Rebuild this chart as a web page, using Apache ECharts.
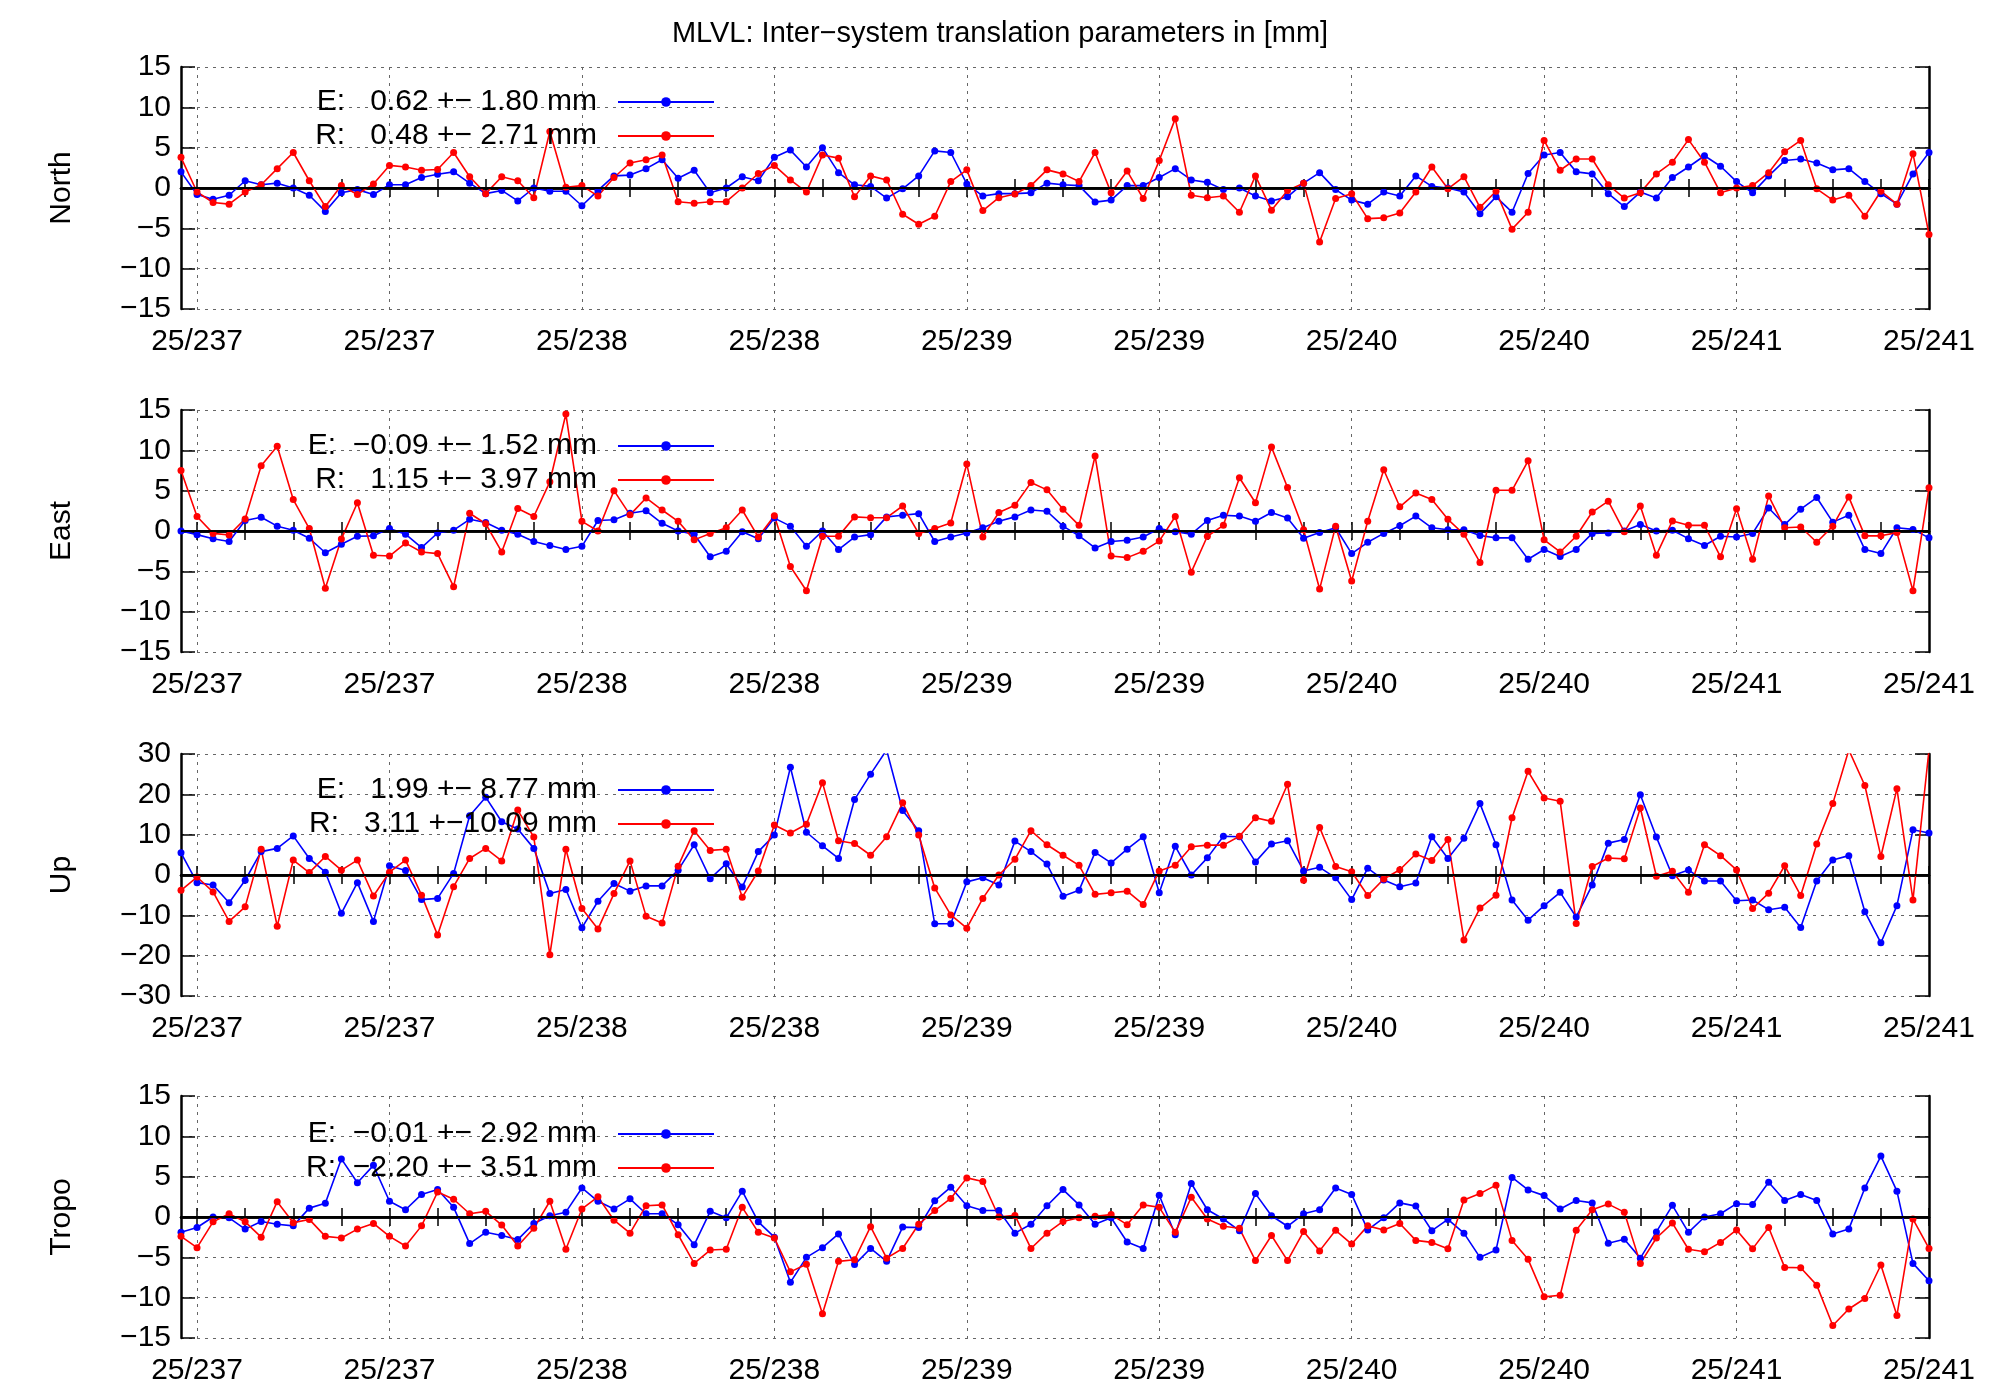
<!DOCTYPE html>
<html><head><meta charset="utf-8">
<script src="https://cdn.jsdelivr.net/npm/echarts@6/dist/echarts.min.js"></script>
<style>html,body{margin:0;padding:0;background:#fff}#c{width:2000px;height:1400px}</style>
</head><body><div id="c"></div>
<script>
const tickLabels = ['25/237','25/237','25/238','25/238','25/239','25/239','25/240','25/240','25/241','25/241'];
const hours = Array.from({length:110},(_,i)=>String(i));
const panelNames = ['North','East','Up','Tropo'];
const legendE = ['E:   0.62 +\u2212 1.80 mm','E:  \u22120.09 +\u2212 1.52 mm','E:   1.99 +\u2212 8.77 mm','E:  \u22120.01 +\u2212 2.92 mm'];
const legendR = ['R:   0.48 +\u2212 2.71 mm','R:   1.15 +\u2212 3.97 mm','R:   3.11 +\u221210.09 mm','R:  \u22122.20 +\u2212 3.51 mm'];
const yMin = [-15,-15,-30,-15], yMax = [15,15,30,15], yStep = [5,5,10,5];

const northE = [2.0,-0.8,-1.4,-0.9,0.9,0.4,0.6,0,-0.9,-2.9,-0.6,-0.2,-0.8,0.4,0.4,1.3,1.7,2.0,0.6,-0.7,-0.3,-1.6,0,-0.4,-0.4,-2.2,-0.3,1.5,1.6,2.4,3.5,1.2,2.2,-0.6,0,1.4,0.9,3.8,
4.7,2.6,5.0,1.9,0.4,0.2,-1.25,-0.1,1.5,4.6,4.4,0.5,-1.0,-0.7,-0.7,-0.6,0.6,0.4,0.3,-1.75,-1.5,0.3,0.3,1.3,2.4,1.0,0.7,-0.2,0,-1.0,-1.6,-1.1,0.6,1.9,-0.2,-1.5,
-2.0,-0.5,-1.0,1.5,0.2,0,-0.5,-3.2,-1.1,-3.0,1.8,4.1,4.4,2.0,1.75,-0.7,-2.3,-0.5,-1.25,1.3,2.6,4.0,2.7,0.8,-0.6,1.5,3.4,3.6,3.1,2.25,2.4,0.8,-0.7,-2.0,1.75,4.4];
const northR = [3.8,-0.5,-1.8,-2.0,-0.5,0.4,2.4,4.4,0.9,-2.3,0.3,-0.8,0.5,2.8,2.6,2.2,2.3,4.4,1.4,-0.7,1.4,0.9,-1.2,7.0,0.1,0.3,-1.0,1.3,3.1,3.5,4.1,-1.7,-1.9,-1.7,-1.7,0,1.8,2.8,
1.0,-0.5,4.1,3.7,-1.1,1.5,1.0,-3.25,-4.5,-3.5,0.8,2.25,-2.8,-1.2,-0.75,0.3,2.25,1.75,0.8,4.4,-0.6,2.1,-1.3,3.4,8.6,-0.9,-1.2,-1.0,-3.0,1.5,-2.75,-0.3,0.6,-6.7,-1.3,-0.7,
-3.8,-3.7,-3.1,-0.5,2.6,-0.1,1.4,-2.4,-0.4,-5.1,-3.0,5.9,2.2,3.6,3.6,0.4,-1.25,-0.6,1.75,3.2,6.0,3.2,-0.6,0,0.3,1.9,4.5,5.9,-0.1,-1.5,-0.9,-3.5,-0.4,-2.0,4.25,-5.75];
const eastE = [0,-0.45,-0.95,-1.3,1.3,1.7,0.6,0.1,-0.9,-2.7,-1.65,-0.65,-0.6,0.3,-0.4,-2.05,-0.25,0.1,1.45,1.05,0.1,-0.4,-1.3,-1.8,-2.3,-1.9,1.3,1.4,2.2,2.5,0.95,0,-0.4,-3.2,-2.5,-0.1,-0.95,1.6,
0.6,-1.9,0,-2.3,-0.75,-0.45,1.75,1.95,2.15,-1.3,-0.75,-0.25,0.4,1.2,1.75,2.6,2.45,0.6,-0.6,-2.1,-1.3,-1.15,-0.75,0.3,-0.1,-0.4,1.3,1.95,1.85,1.2,2.3,1.6,-0.9,-0.2,0.4,-2.8,
-1.4,-0.3,0.65,1.85,0.4,0.15,0.15,-0.55,-0.85,-0.85,-3.5,-2.3,-3.15,-2.3,-0.3,-0.25,0,0.8,0,0.1,-0.95,-1.8,-0.65,-0.75,-0.3,2.85,0.8,2.7,4.15,1.1,1.95,-2.3,-2.8,0.4,0.2,-0.85];
const eastR = [7.5,1.8,-0.3,-0.5,1.5,8.1,10.5,3.9,0.3,-7.1,-1.0,3.5,-3.0,-3.1,-1.5,-2.6,-2.8,-6.9,2.2,0.9,-2.6,2.8,1.8,6.1,14.5,1.2,0,5.0,2.0,4.1,2.6,1.2,-1.1,-0.3,0.4,2.6,-0.75,1.9,
-4.4,-7.4,-0.65,-0.65,1.75,1.65,1.65,3.1,-0.3,0.3,1.0,8.3,-0.75,2.3,3.2,6.0,5.1,2.7,0.7,9.3,-3.1,-3.3,-2.5,-1.25,1.8,-5.1,-0.65,0.7,6.6,3.5,10.4,5.4,0.15,-7.2,0.6,-6.2,
1.2,7.6,3.0,4.7,3.9,1.45,-0.4,-3.9,5.05,5.05,8.7,-1.1,-2.6,-0.65,2.35,3.7,-0.1,3.1,-3.0,1.25,0.7,0.7,-3.2,2.75,-3.5,4.35,0.4,0.5,-1.4,0.6,4.2,-0.6,-0.6,-0.2,-7.4,5.35];
const upE = [5.5,-1.9,-2.5,-6.9,-1.3,5.8,6.6,9.7,4.1,0.7,-9.5,-1.9,-11.5,2.3,1.1,-6.1,-5.8,0.4,14.7,19.3,13.2,11.4,6.6,-4.6,-3.6,-13.1,-6.5,-2.1,-4.0,-2.7,-2.7,1.2,7.5,-0.9,2.8,-3.0,5.8,9.9,
26.7,10.6,7.25,4.1,18.7,25.0,31,16.0,11.0,-12.1,-12.1,-1.7,-0.7,-2.5,8.4,5.8,2.7,-5.25,-3.8,5.6,3.0,6.4,9.5,-4.4,7.1,0,4.25,9.6,9.5,3.25,7.7,8.5,1.0,1.9,-0.7,-6.1,
1.7,-1.25,-2.9,-2.0,9.5,4.1,9.1,17.7,7.5,-6.2,-11.2,-7.6,-4.3,-10.4,-2.5,7.9,8.8,19.9,9.4,-0.2,1.25,-1.5,-1.5,-6.4,-6.2,-8.6,-8.0,-13.0,-1.5,3.7,4.8,-9.1,-16.8,-7.6,11.2,10.4];
const upR = [-3.8,-0.5,-4.2,-11.5,-7.9,6.4,-12.7,3.7,0.6,4.6,1.2,3.7,-5.2,0.7,3.7,-5.0,-14.9,-2.9,4.1,6.6,3.5,16.1,9.4,-19.8,6.4,-8.3,-13.4,-4.6,3.5,-10.2,-11.9,2.2,11.0,6.1,6.4,-5.5,1.0,12.4,
10.4,12.6,22.9,8.5,7.8,4.9,9.5,17.9,9.9,-3.2,-9.9,-13.2,-5.8,0,3.9,11.0,7.5,4.9,2.4,-4.8,-4.4,-4.0,-7.3,1.0,2.4,7.0,7.4,7.4,9.6,14.2,13.3,22.5,-1.3,11.8,2.1,0.8,
-5.1,-1.0,1.3,5.2,3.6,8.8,-16.1,-8.2,-5.0,14.2,25.7,19.1,18.3,-12.0,2.1,4.2,4.0,16.6,-0.3,0.9,-4.3,7.5,4.8,1.25,-8.3,-4.5,2.3,-5.1,7.7,17.7,31,22.2,4.6,21.4,-6.2,31];
const tropoE = [-1.9,-1.3,0,-0.1,-1.5,-0.55,-0.9,-1.1,1.1,1.7,7.2,4.25,6.4,1.95,0.9,2.8,3.4,1.2,-3.3,-1.9,-2.3,-2.8,-0.8,0.15,0.6,3.6,1.95,1.0,2.25,0.4,0.4,-0.95,-3.45,0.7,-0.1,3.2,-0.6,-2.5,
-8.1,-5.0,-3.8,-2.1,-5.9,-3.9,-5.5,-1.25,-1.3,2.0,3.7,1.4,0.8,0.8,-2.0,-0.9,1.4,3.4,1.5,-0.9,-0.1,-3.1,-3.9,2.7,-2.2,4.15,0.9,-0.25,-1.7,2.9,0.15,-1.15,0.4,0.9,3.6,2.8,
-1.6,-0.1,1.75,1.35,-1.7,-0.3,-2.0,-5.0,-4.1,4.9,3.35,2.65,1.0,2.05,1.75,-3.25,-2.75,-5.1,-1.85,1.45,-1.9,0,0.4,1.65,1.55,4.3,2.05,2.8,2.05,-2.1,-1.5,3.6,7.55,3.2,-5.75,-7.9];
const tropoR = [-2.4,-3.8,-0.6,0.4,-0.6,-2.5,1.9,-0.7,-0.3,-2.4,-2.6,-1.5,-0.8,-2.4,-3.6,-1.1,3.1,2.2,0.4,0.7,-1.0,-3.6,-1.4,1.95,-4.0,1.0,2.5,-0.4,-2.0,1.4,1.5,-2.2,-5.75,-4.1,-4.0,1.2,-1.9,-2.6,
-6.8,-5.85,-12.0,-5.5,-5.3,-1.2,-5.1,-3.9,-0.9,0.8,2.3,4.85,4.4,0,0.2,-3.9,-2.0,-0.55,-0.1,0.1,0.3,-0.95,1.5,1.2,-1.9,2.45,-0.25,-1.15,-1.4,-5.4,-2.3,-5.4,-1.8,-4.2,-1.65,-3.35,
-1.1,-1.6,-0.8,-2.9,-3.15,-3.95,2.1,2.9,3.95,-2.9,-5.25,-9.9,-9.7,-1.65,0.9,1.6,0.6,-5.75,-2.6,-0.75,-4.0,-4.3,-3.15,-1.6,-3.95,-1.3,-6.25,-6.3,-8.45,-13.45,-11.4,-10.1,-5.95,-12.2,-0.25,-3.9];

const seriesE = [northE, eastE, upE, tropoE];
const seriesR = [northR, eastR, upR, tropoR];

const FONT = 'Liberation Sans';
const FS = 30;
const gridTops = [67,410,754,1096], gridH = 242;
const legendTops = [82,426,770,1114];
const isMajor = i => (i-1)%12===0;
const isMinor = i => (i-1)%3===0;

const option = {animation:false, backgroundColor:'#fff',
  textStyle:{fontFamily:FONT},
  title:{text:'MLVL: Inter\u2212system translation parameters in [mm]', left:'center', top:14,
    textStyle:{fontFamily:FONT,fontSize:29,fontWeight:'normal',color:'#000'}},
  grid:[], xAxis:[], yAxis:[], series:[], legend:[]};

const nameMap = {};
for (let p=0;p<4;p++){
  option.grid.push({left:181, width:1748, top:gridTops[p], height:gridH});
  const axBase = {type:'category', data:hours, boundaryGap:false, gridIndex:p,
    axisLine:{lineStyle:{color:'#000',width:2.5}},
    axisTick:{inside:true, length:9, interval:(i)=>isMinor(i), lineStyle:{color:'#000',width:1.5}}};
  option.xAxis.push(Object.assign({}, axBase, {position:'bottom',
    axisLabel:{interval:(i)=>isMajor(i), formatter:(v,i)=>isMajor(i)?tickLabels[(i-1)/12]:'', fontSize:FS, color:'#000', fontFamily:FONT, margin:18, showMaxLabel:true},
    splitLine:{show:true, interval:(i)=>isMajor(i), lineStyle:{color:'#666',type:[3,5],width:1}}}));
  option.xAxis.push(Object.assign({}, axBase, {position:'top', axisLabel:{show:false}, splitLine:{show:false}}));
  const yBase = {type:'value', gridIndex:p, min:yMin[p], max:yMax[p], interval:yStep[p],
    axisLine:{show:true, lineStyle:{color:'#000',width:2.5}},
    axisTick:{show:true, inside:true, length:14, lineStyle:{color:'#000',width:1.5}}};
  option.yAxis.push(Object.assign({}, yBase, {position:'left', name:panelNames[p], nameLocation:'middle', nameGap:104, nameRotate:90,
    nameTextStyle:{fontSize:FS, color:'#000', fontFamily:FONT},
    axisLabel:{fontSize:FS, color:'#000', fontFamily:FONT, margin:10, formatter:(v)=>String(v).replace('-','\u2212')},
    splitLine:{show:true, lineStyle:{color:'#666',type:[3,5],width:1}}}));
  option.yAxis.push(Object.assign({}, yBase, {position:'right', axisLabel:{show:false}, splitLine:{show:false}}));
  const nE = 'E'+p, nR = 'R'+p;
  nameMap[nE] = legendE[p]; nameMap[nR] = legendR[p];
  const common = {type:'line', xAxisIndex:2*p, yAxisIndex:2*p, symbol:'circle', symbolSize:7, clip:true, showSymbol:true};
  option.series.push(Object.assign({}, common, {name:nE, data:seriesE[p], color:'#0000ff',
    lineStyle:{width:1.6,color:'#0000ff'}, itemStyle:{color:'#0000ff'},
    markLine:{silent:true, symbol:'none', label:{show:false}, lineStyle:{color:'#000',type:'solid',width:2}, data:[{yAxis:0}]}}));
  option.series.push(Object.assign({}, common, {name:nR, data:seriesR[p], color:'#ff0000',
    lineStyle:{width:1.6,color:'#ff0000'}, itemStyle:{color:'#ff0000'}}));
  option.legend.push({data:[nE,nR], orient:'vertical', right:1280, top:legendTops[p], align:'right',
    itemWidth:96, itemHeight:12, itemGap:4, selectedMode:false,
    formatter:(n)=>nameMap[n],
    textStyle:{fontSize:FS, color:'#000', fontFamily:FONT, padding:[0,16,0,0]}});
}

const chart = echarts.init(document.getElementById('c'), null, {renderer:'canvas'});
chart.setOption(option);
</script></body></html>
